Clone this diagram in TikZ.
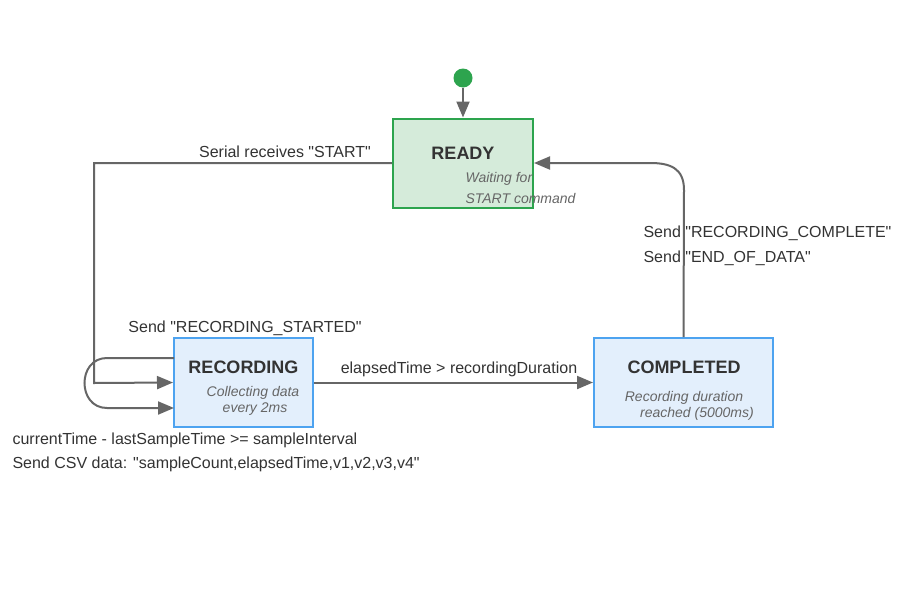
\documentclass[tikz,border=0pt]{standalone}
\usepackage{fontspec}
\setmainfont{Liberation Sans}[Ligatures=TeXOff]
\usetikzlibrary{arrows.meta}
\definecolor{edge}{HTML}{666666}
\definecolor{txt}{HTML}{333333}
\definecolor{note}{HTML}{666666}
\definecolor{gfill}{HTML}{D5EBDA}
\definecolor{gline}{HTML}{2DA44E}
\definecolor{bfill}{HTML}{E3EFFC}
\definecolor{bline}{HTML}{4DA3F0}
\tikzset{
  statebox/.style={draw, line width=2pt, minimum width=#1, minimum height=89pt, inner sep=0pt},
  title/.style={font=\fontsize{18}{21}\selectfont\bfseries, text=txt},
  notetext/.style={font=\fontsize{14}{17}\selectfont\itshape, text=note},
  lbl/.style={font=\fontsize{16}{19}\selectfont, text=txt},
  conn/.style={draw=edge, line width=2pt, -{Triangle[length=16pt,width=13pt]}},
}
\begin{document}
\begin{tikzpicture}[x=1pt,y=-1pt]
\useasboundingbox (0,0) rectangle (900,600);
\fill[white] (0,0) rectangle (900,600);
% start
\node[circle, fill=gline, minimum size=19pt, inner sep=0pt] (start) at (463,78) {};
% states
\node[statebox=140pt, fill=gfill, draw=gline] (ready) at (463,163) {};
\node[title] (readyt) at (463,153) {READY};
\node[notetext, anchor=west] (readyn1) at (462,179) {Waiting for};
\node[notetext, anchor=west] (readyn2) at (462,198) {START command};

\node[statebox=139pt, fill=bfill, draw=bline] (rec) at (243.5,382.5) {};
\node[title] (rect) at (243.5,367) {RECORDING};
\node[notetext] (recn1) at (253,393) {Collecting data};
\node[notetext] (recn2) at (255,409) {every 2ms};

\node[statebox=179pt, fill=bfill, draw=bline] (comp) at (683.5,382.5) {};
\node[title] (compt) at (684,367) {COMPLETED};
\node[notetext] (compn1) at (684,398) {Recording duration};
\node[notetext] (compn2) at (697,414) {reached (5000ms)};

% edges
\draw[conn] (start) -- (ready.north);
\coordinate (c1) at (94,163);
\coordinate (c2) at (94,383);
\draw[conn] (ready.west) -- (c1) -- (c2) -- (rec.west);
\node[lbl] (l1) at (285,152) {Serial receives "START"};
\node[lbl] (l2) at (245,328) {Send "RECORDING\_STARTED"};

\coordinate (s1) at (174,358);
\coordinate (s2) at (174,408);
\draw[conn] (s1) -- (107,358) .. controls (77,358) and (77,408) .. (107,408) -- (s2);
\node[lbl, anchor=west] (l3) at (9,440) {currentTime - lastSampleTime >= sampleInterval};
\node[lbl, anchor=west] (l4) at (9,464) {Send CSV data: "sampleCount,elapsedTime,v1,v2,v3,v4"};

\draw[conn] (rec.east) -- (comp.west);
\node[lbl] (l5) at (459,369) {elapsedTime > recordingDuration};

\coordinate (u1) at (684,190);
\draw[conn] (comp.north) -- (u1) .. controls (684,168) and (670,163) .. (650,163) -- (ready.east);
\node[lbl, anchor=west] (l6) at (640,233) {Send "RECORDING\_COMPLETE"};
\node[lbl, anchor=west] (l7) at (640,258) {Send "END\_OF\_DATA"};
\end{tikzpicture}
\end{document}
